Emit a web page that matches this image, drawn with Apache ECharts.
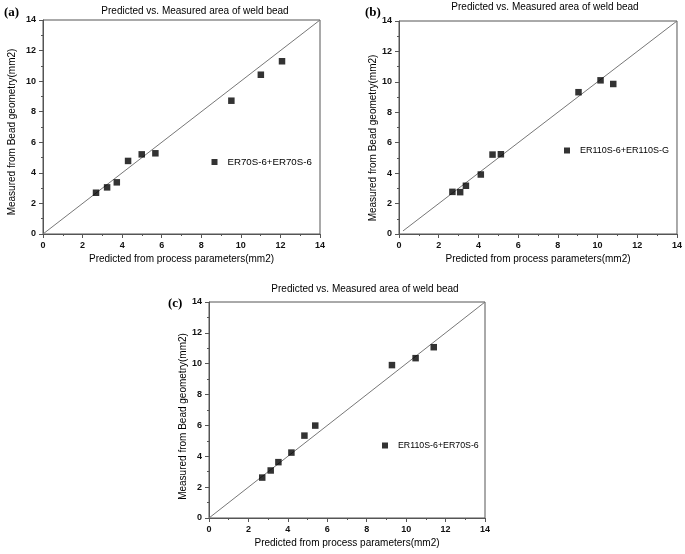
<!DOCTYPE html>
<html>
<head>
<meta charset="utf-8">
<script src="https://cdn.jsdelivr.net/npm/echarts@6/dist/echarts.min.js"></script>
<style>html,body{margin:0;padding:0;background:#fff}#c{width:685px;height:554px}</style>
</head>
<body>
<div id="c"></div>
<script>
// ---- data ----
const axisMin = 0, axisMax = 14, axisStep = 2;
const chartTitle = 'Predicted vs. Measured area of weld bead';
const xName = 'Predicted from process parameters(mm2)';
const yName = 'Measured from Bead geometry(mm2)';
const panelLabels = ['(a)', '(b)', '(c)'];
const seriesNames = ['ER70S-6+ER70S-6', 'ER110S-6+ER110S-G', 'ER110S-6+ER70S-6'];

const predictedA = [2.68, 3.24, 3.73, 4.30, 4.99, 5.68, 9.52, 11.01, 12.08];
const measuredA  = [2.70, 3.05, 3.38, 4.78, 5.21, 5.28, 8.72, 10.42, 11.30];
const predictedB = [2.69, 3.08, 3.37, 4.12, 4.71, 5.13, 9.04, 10.15, 10.79];
const measuredB  = [2.77, 2.75, 3.17, 3.91, 5.22, 5.24, 9.32, 10.10, 9.86];
const predictedC = [2.70, 3.13, 3.52, 4.18, 4.84, 5.39, 9.28, 10.48, 11.40];
const measuredC  = [2.62, 3.08, 3.62, 4.24, 5.34, 5.99, 9.91, 10.36, 11.07];

const diagonalA = [[0, 0], [14, 14]];
const diagonalB = [[0.2, 0.2], [14, 14]];
const diagonalC = [[0, 0], [14, 14]];

// ---- layout ----
const grids = [
  {left: 43, top: 20, width: 277, height: 214},
  {left: 399, top: 21, width: 278, height: 213},
  {left: 209, top: 302, width: 276, height: 216}
];
const titleCenters = [[195, 6], [545, 2], [365, 284]];
const labelPos = [[4, 6], [365, 6], [168, 297]];
const legendPos = [[211.5, 157], [564, 146], [382, 441]];
const legendFontSizes = [9.7, 9, 8.8];
const yNameGaps = [26, 16, 21];
const yNameShift = [10, 21, 13];

const pairs = (xs, ys) => xs.map((x, i) => [x, ys[i]]);
const scatterData = [pairs(predictedA, measuredA), pairs(predictedB, measuredB), pairs(predictedC, measuredC)];
const diagonals = [diagonalA, diagonalB, diagonalC];

const axisColor = '#555';
const font = 'Liberation Sans, Arial, sans-serif';

function makeAxis(i, isX) {
  return {
    type: 'value', gridIndex: i, min: axisMin, max: axisMax, interval: axisStep,
    name: isX ? xName : yName,
    nameLocation: 'middle',
    nameGap: isX ? 20 : yNameGaps[i],
    nameTextStyle: {fontFamily: font, fontSize: 10, color: '#000',
      padding: isX ? 0 : [0, yNameShift[i], 0, 0]},
    axisLine: {show: true, onZero: false, lineStyle: {color: axisColor, width: 1}},
    axisTick: {show: true, inside: false, length: 4, lineStyle: {color: axisColor}},
    minorTick: {show: true, splitNumber: 2, length: 2, lineStyle: {color: axisColor}},
    splitLine: {show: false},
    axisLabel: {fontFamily: font, fontSize: 9, fontWeight: 'bold', color: '#111', margin: 7}
  };
}

const option = {
  backgroundColor: '#fff',
  animation: false,
  title: [
    ...titleCenters.map(p => ({
      text: chartTitle, left: p[0], top: p[1], textAlign: 'center', padding: 0,
      textStyle: {fontFamily: font, fontSize: 10, fontWeight: 'normal', color: '#000'}
    })),
    ...labelPos.map((p, i) => ({
      text: panelLabels[i], left: p[0], top: p[1], padding: 0,
      textStyle: {fontFamily: 'Liberation Serif, Times New Roman, serif', fontSize: 13, fontWeight: 'bold', color: '#000'}
    }))
  ],
  grid: grids.map(g => Object.assign({show: true, borderColor: axisColor, borderWidth: 1, backgroundColor: 'transparent'}, g)),
  xAxis: grids.map((g, i) => makeAxis(i, true)),
  yAxis: grids.map((g, i) => makeAxis(i, false)),
  legend: legendPos.map((p, i) => ({
    data: [seriesNames[i]], left: p[0], top: p[1], padding: 0, orient: 'vertical',
    icon: 'rect', itemWidth: 6, itemHeight: 6, itemGap: 0,
    selectedMode: false,
    textStyle: {fontFamily: font, fontSize: legendFontSizes[i], color: '#000', padding: [0, 0, 0, 5]}
  })),
  series: [
    ...diagonals.map((d, i) => ({
      type: 'line', xAxisIndex: i, yAxisIndex: i, data: d, symbol: 'none', silent: true,
      lineStyle: {color: '#777', width: 1}, z: 1
    })),
    ...scatterData.map((d, i) => ({
      type: 'scatter', name: seriesNames[i], xAxisIndex: i, yAxisIndex: i, data: d,
      symbol: 'rect', symbolSize: 6.5, itemStyle: {color: '#000'}, z: 3
    }))
  ]
};

const chart = echarts.init(document.getElementById('c'), null, {renderer: 'canvas'});
chart.setOption(option);
</script>
</body>
</html>
